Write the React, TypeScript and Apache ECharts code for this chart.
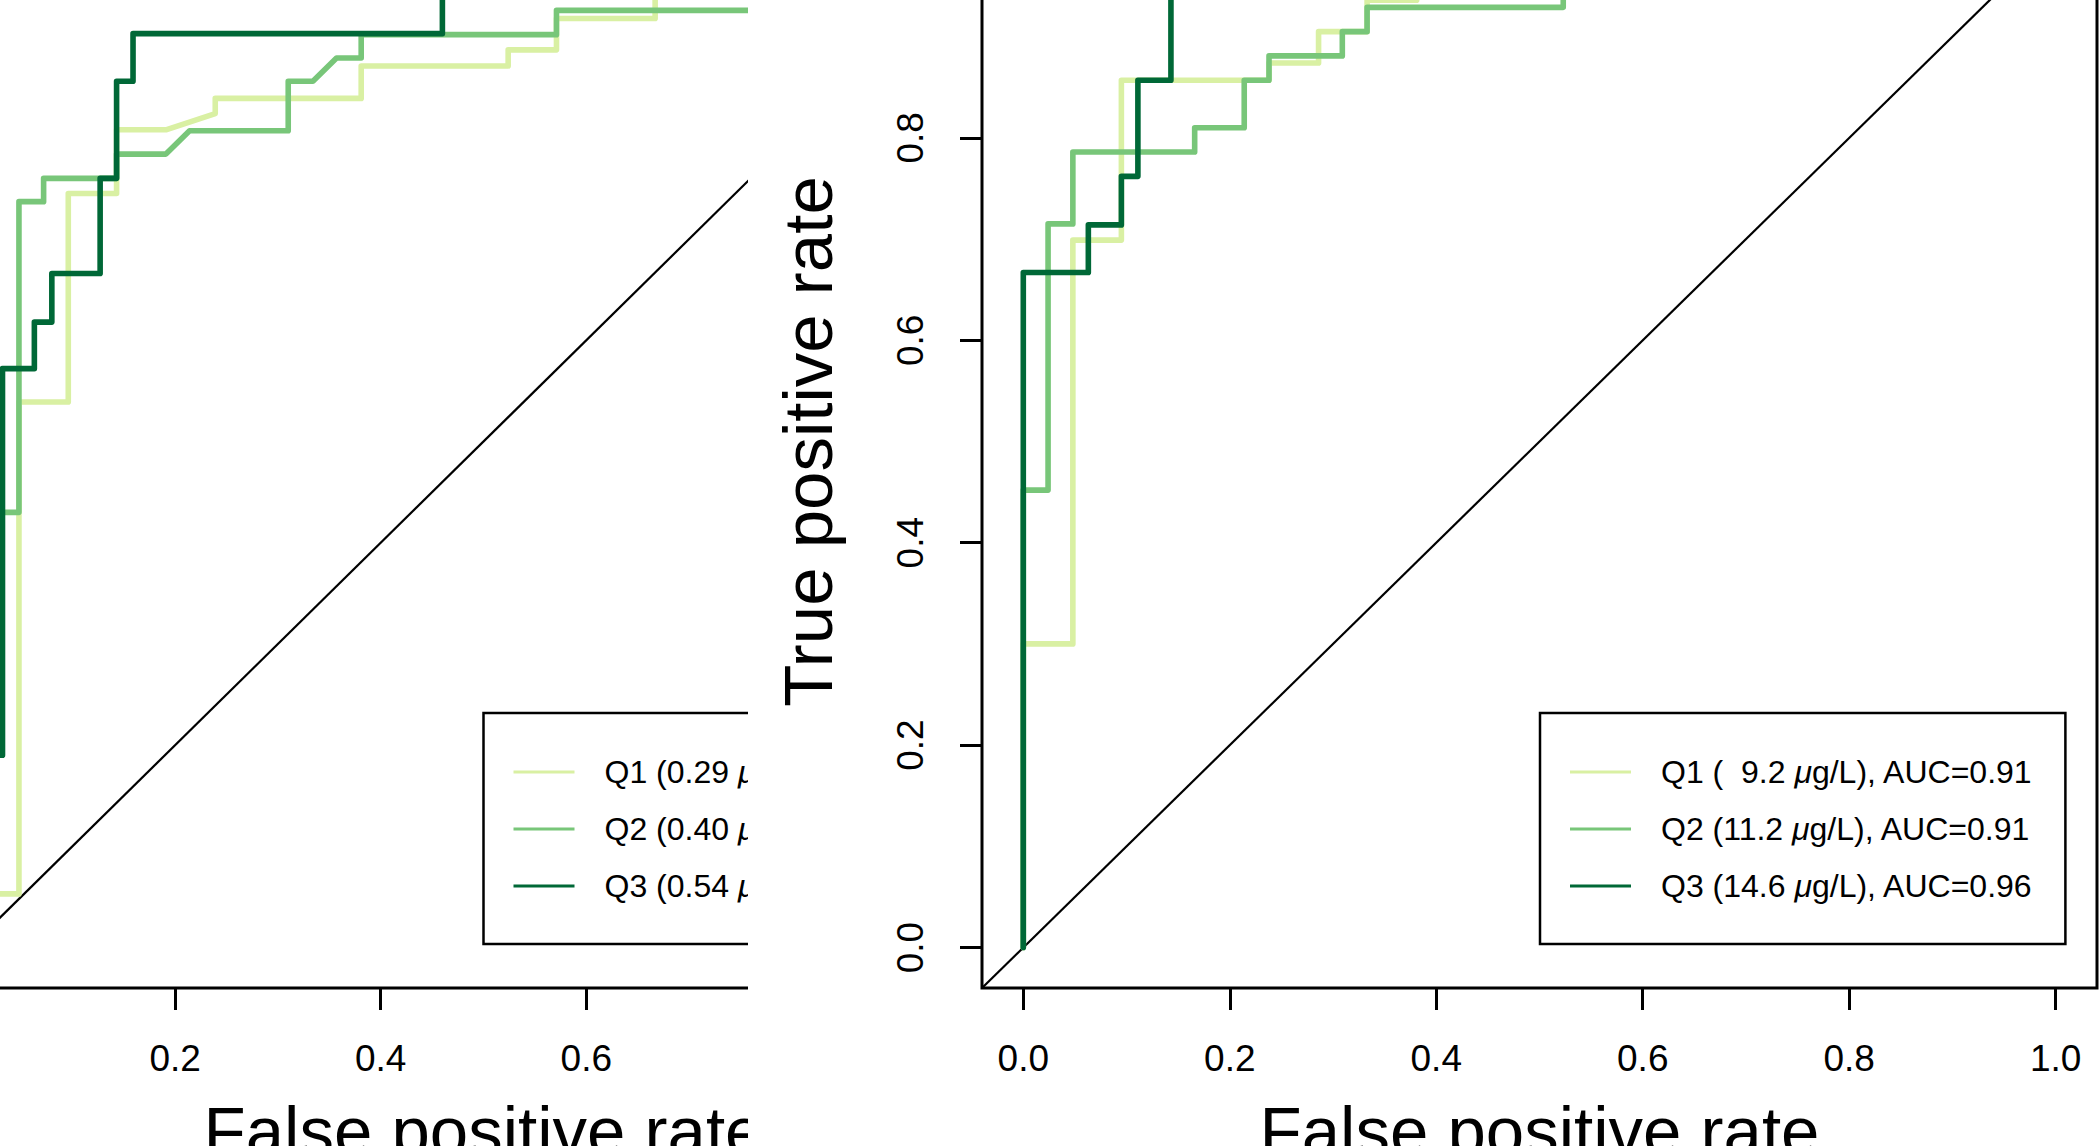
import React, { useEffect, useRef } from "react";
import * as echarts from "echarts";

const FONT = '"Liberation Sans", Arial, Helvetica, sans-serif';

// ---- data ----
const tickValues = [0, 0.2, 0.4, 0.6, 0.8, 1.0];
const leftVisibleXTicks = [0.2, 0.4, 0.6];
const seriesColors = ["#d9f0a3", "#78c679", "#006837"];
const diagonal = [[-0.04, -0.04], [1.04, 1.04]];

// left panel (FPR, TPR)
const leftQ1 = [[0, 0], [0, 0.053], [0.048, 0.053], [0.048, 0.539], [0.096, 0.539], [0.096, 0.745], [0.143, 0.745], [0.143, 0.808], [0.191, 0.808], [0.239, 0.824], [0.239, 0.839], [0.381, 0.839], [0.381, 0.871], [0.524, 0.871], [0.524, 0.887], [0.571, 0.887], [0.571, 0.918], [0.667, 0.918], [0.667, 1], [1, 1]];
const leftQ2 = [[0, 0], [0, 0.43], [0.048, 0.43], [0.048, 0.737], [0.072, 0.737], [0.072, 0.76], [0.143, 0.76], [0.143, 0.784], [0.191, 0.784], [0.214, 0.807], [0.31, 0.807], [0.31, 0.856], [0.334, 0.856], [0.357, 0.879], [0.381, 0.879], [0.381, 0.902], [0.571, 0.902], [0.571, 0.926], [0.857, 0.926], [0.857, 1], [1, 1]];
const leftQ3 = [[0, 0], [0, 0.19], [0.032, 0.19], [0.032, 0.572], [0.063, 0.572], [0.063, 0.618], [0.08, 0.618], [0.08, 0.666], [0.127, 0.666], [0.127, 0.76], [0.143, 0.76], [0.143, 0.856], [0.159, 0.856], [0.159, 0.903], [0.46, 0.903], [0.46, 1], [1, 1]];
const leftNames = ["Q1 (0.29 μg/L)", "Q2 (0.40 μg/L)", "Q3 (0.54 μg/L)"];

// right panel (FPR, TPR)
const rightQ1 = [[0, 0], [0, 0.3], [0.048, 0.3], [0.048, 0.699], [0.095, 0.699], [0.095, 0.857], [0.238, 0.857], [0.238, 0.874], [0.286, 0.874], [0.286, 0.905], [0.333, 0.905], [0.333, 0.936], [0.381, 0.936], [0.381, 1], [1, 1]];
const rightQ2 = [[0, 0], [0, 0.452], [0.024, 0.452], [0.024, 0.715], [0.048, 0.715], [0.048, 0.786], [0.166, 0.786], [0.166, 0.81], [0.214, 0.81], [0.214, 0.857], [0.238, 0.857], [0.238, 0.881], [0.309, 0.881], [0.309, 0.905], [0.333, 0.905], [0.333, 0.929], [0.523, 0.929], [0.523, 1], [1, 1]];
const rightQ3 = [[0, 0], [0, 0.667], [0.063, 0.667], [0.063, 0.714], [0.095, 0.714], [0.095, 0.762], [0.111, 0.762], [0.111, 0.857], [0.143, 0.857], [0.143, 1], [1, 1]];
const rightNames = ["Q1 (\u00a0\u00a09.2 μg/L), AUC=0.91", "Q2 (11.2 μg/L), AUC=0.91", "Q3 (14.6 μg/L), AUC=0.96"];

const xTitle = "False positive rate";
const yTitle = "True positive rate";

function legendFormatter(name: string) {
  const parts = name.split("μ");
  return `{s| }{t|${parts[0]}}{i|μ}{t|${parts[1] || ""}}`;
}

function buildOption(layout: any, curves: number[][][], names: string[]) {
  const series: any[] = [
    {
      name: "diag",
      type: "line",
      data: diagonal,
      showSymbol: false,
      symbol: "none",
      silent: true,
      lineStyle: { color: "#000", width: 2.2 },
      itemStyle: { color: "#000" },
      z: 2,
    },
  ];
  curves.forEach((c, i) => {
    series.push({
      name: names[i],
      type: "line",
      data: c,
      showSymbol: false,
      symbol: "none",
      silent: true,
      lineStyle: { color: seriesColors[i], width: 5.6, cap: "round", join: "round" },
      itemStyle: { color: seriesColors[i] },
      z: 3 + i,
    });
  });
  return {
    animation: false,
    backgroundColor: "transparent",
    grid: {
      left: layout.gridLeft,
      top: layout.gridTop,
      width: layout.gridWidth,
      height: layout.gridHeight,
      show: true,
      borderColor: "#000",
      borderWidth: 3,
      backgroundColor: "transparent",
      containLabel: false,
      outerBoundsMode: "none",
    },
    xAxis: {
      type: "value",
      min: -0.04,
      max: 1.04,
      axisLine: { show: false, onZero: false },
      splitLine: { show: false },
      axisTick: { show: true, customValues: layout.xTicks, length: 22, lineStyle: { color: "#000", width: 3 } },
      axisLabel: {
        customValues: layout.xTicks,
        formatter: (v: number) => v.toFixed(1),
        margin: 52,
        fontSize: 37,
        color: "#000",
        fontFamily: FONT,
        hideOverlap: false,
      },
      name: xTitle,
      nameLocation: "middle",
      nameGap: 109,
      nameTextStyle: { fontSize: 69, color: "#000", fontFamily: FONT },
    },
    yAxis: {
      type: "value",
      min: -0.04,
      max: 1.04,
      axisLine: { show: false, onZero: false },
      splitLine: { show: false },
      axisTick: { show: layout.showY, customValues: tickValues, length: 22, lineStyle: { color: "#000", width: 3 } },
      axisLabel: {
        show: layout.showY,
        customValues: tickValues,
        formatter: (v: number) => v.toFixed(1),
        margin: 53,
        rotate: 90,
        fontSize: 37,
        color: "#000",
        fontFamily: FONT,
        hideOverlap: false,
      },
      name: layout.showY ? yTitle : "",
      nameLocation: "middle",
      nameGap: 139,
      nameTextStyle: { fontSize: 69, color: "#000", fontFamily: FONT },
    },
    legend: {
      data: names,
      orient: "vertical",
      left: layout.legendLeft,
      top: layout.legendTop,
      itemWidth: 61,
      itemHeight: 3,
      itemGap: 25,
      icon: "rect",
      padding: [43, 32, 42, 30],
      borderColor: "#000",
      borderWidth: 2.5,
      borderRadius: 0,
      backgroundColor: "#fff",
      selectedMode: false,
      formatter: legendFormatter,
      textStyle: {
        rich: {
          s: { width: 25, fontSize: 32, lineHeight: 32 },
          t: { fontSize: 32, lineHeight: 32, fontFamily: FONT, color: "#000" },
          i: { fontSize: 32, lineHeight: 32, fontFamily: FONT, color: "#000", fontStyle: "italic" },
        },
      },
    },
    tooltip: { show: false },
    series,
  };
}

const leftLayout = { gridLeft: -71.5, gridTop: -105, gridWidth: 1110, gridHeight: 1093, legendLeft: 483.5, legendTop: 713, xTicks: leftVisibleXTicks, showY: false };
const rightLayout = { gridLeft: 234, gridTop: -105, gridWidth: 1115, gridHeight: 1093, legendLeft: 792, legendTop: 713, xTicks: tickValues, showY: true };

function Panel(props: { style: any; option: any }) {
  const ref = useRef<HTMLDivElement>(null);
  useEffect(() => {
    if (!ref.current) return;
    const chart = echarts.init(ref.current, null, { renderer: "svg" });
    chart.setOption(props.option);
    return () => chart.dispose();
  }, []);
  return <div ref={ref} style={props.style} />;
}

export default function App() {
  const leftOption = buildOption(leftLayout, [leftQ1, leftQ2, leftQ3], leftNames);
  const rightOption = buildOption(rightLayout, [rightQ1, rightQ2, rightQ3], rightNames);
  return (
    <div style={{ position: "fixed", left: 0, top: 0, width: 2100, height: 1146, background: "#fff", overflow: "hidden" }}>
      <div style={{ position: "absolute", left: 0, top: 0, width: 748, height: 1146, overflow: "hidden" }}>
        <Panel style={{ width: 748, height: 1146 }} option={leftOption} />
      </div>
      <Panel style={{ position: "absolute", left: 748, top: 0, width: 1352, height: 1146 }} option={rightOption} />
    </div>
  );
}
